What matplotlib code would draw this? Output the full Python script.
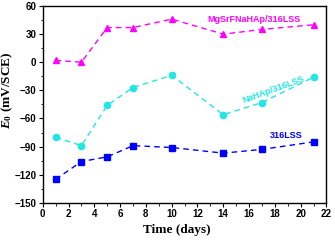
import matplotlib
matplotlib.use("Agg")
import matplotlib.pyplot as plt
from matplotlib.ticker import MultipleLocator

# immersion time (days)
days = [1, 3, 5, 7, 10, 14, 17, 21]

# open circuit potential E0 (mV vs SCE)
mgsrf = [2, 0, 37, 37, 46, 30, 35, 40]
nahap = [-80, -89, -46, -27, -14, -56, -43, -16]
lss316 = [-125, -106, -101, -89, -91, -97, -93, -85]

plt.rcParams["mathtext.fontset"] = "custom"
plt.rcParams["mathtext.it"] = "Liberation Serif:italic:bold"
plt.rcParams["mathtext.rm"] = "Liberation Serif:bold"
plt.rcParams["mathtext.bf"] = "Liberation Serif:bold"

fig = plt.figure(figsize=(3.35, 2.4), dpi=100)
ax = fig.add_axes([0.1275, 0.155, 0.847, 0.82])

ax.plot(days, mgsrf, "--^", color="#ff00ff", ms=4.5, lw=1, dashes=(4, 3))
ax.plot(days, nahap, "--o", color="#22e6e6", ms=4.5, lw=1, dashes=(4, 3))
ax.plot(days, lss316, "--s", color="#0000ff", ms=4, lw=1, dashes=(4, 3))

ax.text(16.4, 46, "MgSrFNaHAp/316LSS", color="#ff00ff", ha="center", va="center",
        fontfamily="Liberation Sans", fontweight="bold", fontsize=6.5)
ax.text(17.9, -29, "NaHAp/316LSS", color="#22e6e6", ha="center", va="center",
        rotation=20, fontfamily="Liberation Sans", fontweight="bold", fontsize=6.5)
ax.text(18.9, -78, "316LSS", color="#0000ff", ha="center", va="center",
        fontfamily="Liberation Sans", fontweight="bold", fontsize=6.5)

ax.set_xlim(0, 22)
ax.set_ylim(-150, 60)
ax.xaxis.set_major_locator(MultipleLocator(2))
ax.xaxis.set_minor_locator(MultipleLocator(1))
ax.yaxis.set_major_locator(MultipleLocator(30))
ax.yaxis.set_minor_locator(MultipleLocator(15))
ax.tick_params(which="major", direction="out", length=3, width=0.8, pad=1.5)
ax.tick_params(which="minor", direction="out", length=1.8, width=0.6)
for lab in ax.get_xticklabels() + ax.get_yticklabels():
    lab.set_fontfamily("Liberation Sans")
    lab.set_fontweight("bold")
    lab.set_fontsize(7)
for sp in ax.spines.values():
    sp.set_linewidth(1)

ax.set_xlabel("Time (days)", fontfamily="Liberation Serif", fontweight="bold",
              fontsize=9.5)
ax.set_ylabel(r"$E_0$ (mV/SCE)", fontfamily="Liberation Serif",
              fontweight="bold", fontsize=9.5)
ax.xaxis.set_label_coords(0.473, -0.108)
ax.yaxis.set_label_coords(-0.098, 0.574)

fig.savefig("out.png", dpi=100)
